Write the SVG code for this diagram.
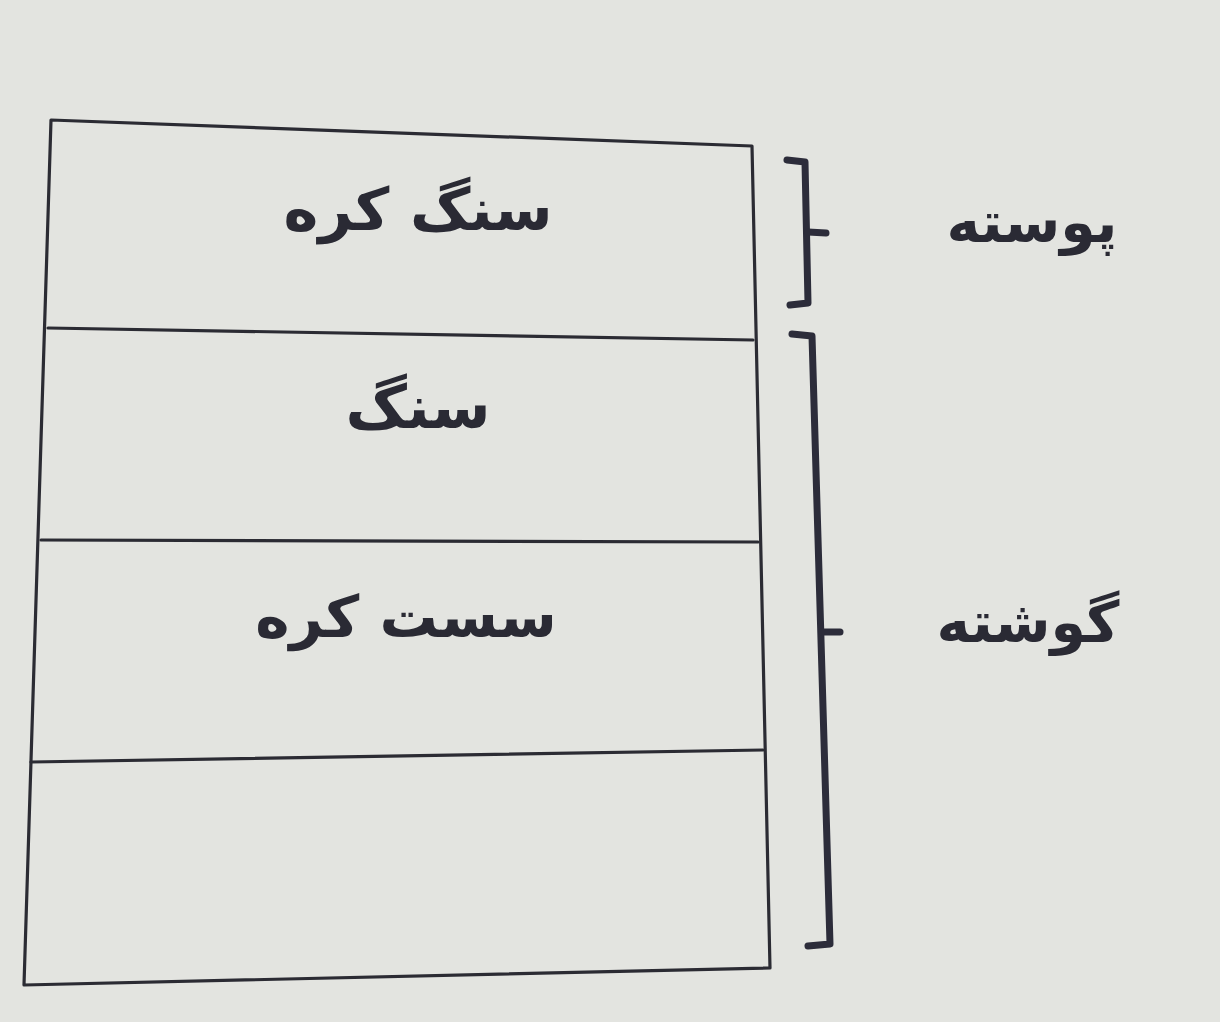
<svg xmlns="http://www.w3.org/2000/svg" width="1220" height="1022" viewBox="0 0 1220 1022">
<style>
.ln{fill:none;stroke:#2b2b33;stroke-width:3.2;stroke-linejoin:round;stroke-linecap:round}
.br{fill:none;stroke:#2c2c3a;stroke-width:7;stroke-linejoin:round;stroke-linecap:round}
.t{font-family:"DejaVu Sans",sans-serif;font-weight:bold;fill:#2a2a34;text-anchor:middle;direction:rtl}
</style>
<rect width="1220" height="1022" fill="#e3e4e0"/>
<g id="layers">
<polygon class="ln" points="51,120 752,146 770,968 24,985"/>
</g>
<g id="connectors">
<line class="ln" x1="48" y1="328" x2="753" y2="340"/>
<line class="ln" x1="41" y1="540" x2="758" y2="542"/>
<line class="ln" x1="31" y1="762" x2="763" y2="750"/>
<path class="br" d="M787,160 L805,162 L808,303 L790,305"/>
<path class="br" d="M808,232 L826,233"/>
<path class="br" d="M792,334 L812,336 L830,944 L808,946"/>
<path class="br" d="M822,632 L840,632"/>
</g>
<g id="n1"><text class="t" x="418" y="230" font-size="59">سنگ کره</text></g>
<g id="n2"><text class="t" x="418" y="428" font-size="60">سنگ</text></g>
<g id="n3"><text class="t" x="406" y="637" font-size="58">سست کره</text></g>
<g id="n4"><text class="t" x="1032" y="242" font-size="57">پوسته</text></g>
<g id="n5"><text class="t" x="1028" y="642" font-size="57">گوشته</text></g>
</svg>
